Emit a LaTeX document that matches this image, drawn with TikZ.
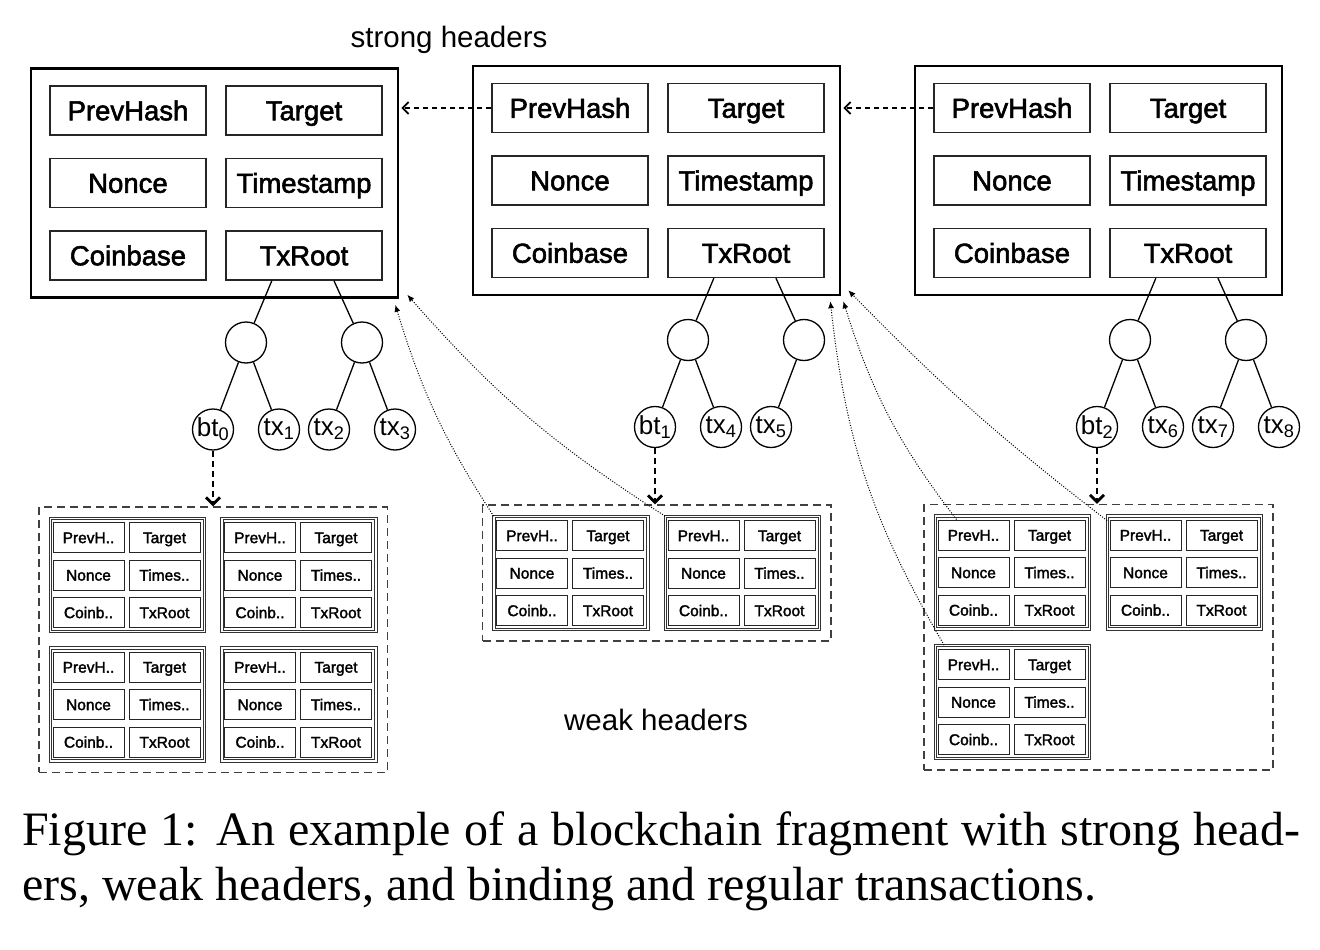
\documentclass[tikz,border=0pt]{standalone}
\usepackage{fontspec}
\setmainfont{Liberation Sans}
\newfontfamily\cellfont{Liberation Sans}[FakeBold=2]
\newfontfamily\capfont{Liberation Serif}
\usetikzlibrary{trees}
\usetikzlibrary{fit}
\usetikzlibrary{arrows.meta}

\begin{document}
\begin{tikzpicture}[x=1pt, y=1pt, level distance=87pt,
  level 1/.style={sibling distance=116pt},
  level 2/.style={sibling distance=66pt,
    edge from parent path={(\tikzparentnode) -- (\tikzchildnode)}},
  edge from parent/.style={draw, line width=1.3pt},
  strongbox/.style={draw, line width=2.6pt, minimum width=367pt, minimum height=229pt},
  cell/.style={draw=black!85, line width=1.2pt, fill=white, minimum width=156pt, minimum height=49pt,
    inner sep=0pt, text height=19.5pt, text depth=0pt, font=\cellfont\fontsize{27.5}{30}\selectfont},
  weakbox/.style={draw=black!80, double, double distance=1.8pt, line width=0.8pt, minimum width=154pt, minimum height=113pt, inner sep=0pt},
  wcell/.style={draw=black!85, line width=1pt, minimum width=71pt, minimum height=30pt,
    inner sep=0pt, text height=11.2pt, text depth=0pt, font=\cellfont\fontsize{15.5}{17}\selectfont},
  wgroup/.style={draw=black!75, line width=1.4pt, dash pattern=on 8pt off 5pt, inner sep=11pt},
  hnode/.style={draw, circle, line width=1.3pt, minimum size=41pt, inner sep=0pt},
  leaf/.style={draw, circle, line width=1.3pt, minimum size=41pt, inner sep=0pt, font=\fontsize{26}{28}\selectfont},
  tag/.style={font=\fontsize{29.5}{32}\selectfont},
  captext/.style={font=\capfont\fontsize{48}{56}\selectfont, inner sep=0pt},
  chainarrow/.style={-{Straight Barb[length=6pt,width=12pt,line width=1.8pt]}, line width=1.5pt, dash pattern=on 5pt off 4pt, shorten >=2pt},
  bindarrow/.style={-{Straight Barb[length=7pt,width=14pt]}, line width=2.8pt, dash pattern=on 6pt off 4pt},
  weakarrow/.style={-{Latex[length=7pt,width=6pt]}, line width=1pt, dash pattern=on 1pt off 1.6pt}
]
\useasboundingbox (0,0) rectangle (1320,-950);

%%% strong headers %%%
\node[tag] (strong) at (449,-40) {strong headers};

\foreach \n/\cx/\cy in {1/216/183, 2/658/180.5, 3/1100/180.5}
{
  \node[strongbox] (s\n) at (\cx-1.5, -\cy) {};
  \node[cell] (s\n-prev) at (\cx-88, -\cy+72.5) {PrevHash};
  \node[cell] (s\n-target) at (\cx+88, -\cy+72.5) {Target};
  \node[cell] (s\n-nonce) at (\cx-88, -\cy) {Nonce};
  \node[cell] (s\n-time) at (\cx+88, -\cy) {Timestamp};
  \node[cell] (s\n-coin) at (\cx-88, -\cy-72.5) {Coinbase};
}

%% merkle trees
\node[cell] (s1-txroot) at (304,-255.5) {TxRoot}
  child[parent anchor=218] {node[hnode] (s1-h1) {}
    child {node[leaf] (bt0) {bt\textsubscript{0}}}
    child {node[leaf] (tx1) {tx\textsubscript{1}}}
  }
  child[parent anchor=-40] {node[hnode] (s1-h2) {}
    child {node[leaf] (tx2) {tx\textsubscript{2}}}
    child {node[leaf] (tx3) {tx\textsubscript{3}}}
  };

\node[cell] (s2-txroot) at (746,-253) {TxRoot}
  child[parent anchor=218] {node[hnode] (s2-h1) {}
    child {node[leaf] (bt1) {bt\textsubscript{1}}}
    child {node[leaf] (tx4) {tx\textsubscript{4}}}
  }
  child[parent anchor=-40] {node[hnode] (s2-h2) {}
    child {node[leaf] (tx5) {tx\textsubscript{5}}}
    child[missing]
  };

\node[cell] (s3-txroot) at (1188,-253) {TxRoot}
  child[parent anchor=218] {node[hnode] (s3-h1) {}
    child {node[leaf] (bt2) {bt\textsubscript{2}}}
    child {node[leaf] (tx6) {tx\textsubscript{6}}}
  }
  child[parent anchor=-40] {node[hnode] (s3-h2) {}
    child {node[leaf] (tx7) {tx\textsubscript{7}}}
    child {node[leaf] (tx8) {tx\textsubscript{8}}}
  };

\draw[chainarrow] (s2-prev.west) -- (s2-prev.west -| s1.east);
\draw[chainarrow] (s3-prev.west) -- (s3-prev.west -| s2.east);

%%% weak headers %%%
\foreach \w/\cx/\cy in {a/127.5/575, b/299/575, c/127.5/704.5, d/299/704.5,
  e/571/573, f/742.5/573, g/1012.5/572.5, h/1184.5/572.5, i/1012.5/702}
{
  \node[weakbox] (w\w) at (\cx, -\cy) {};
  \node[wcell] (w\w-prev) at (\cx-39, -\cy+37.5) {PrevH..};
  \node[wcell] (w\w-target) at (\cx+37, -\cy+37.5) {Target};
  \node[wcell] (w\w-nonce) at (\cx-39, -\cy) {Nonce};
  \node[wcell] (w\w-time) at (\cx+37, -\cy) {Times..};
  \node[wcell] (w\w-coin) at (\cx-39, -\cy-37.5) {Coinb..};
  \node[wcell] (w\w-txroot) at (\cx+37, -\cy-37.5) {TxRoot};
}

\node[wgroup, fit=(wa)(wd)] (g1) {};
\node[wgroup, fit=(we)(wf)] (g2) {};
\node[wgroup, fit=(wg)(wh)(wi)] (g3) {};
\node[tag] (weak) at (656,-720) {weak headers};

\draw[bindarrow] (bt0) -- (bt0 |- g1.north);
\draw[bindarrow] (bt1) -- (bt1 |- g2.north);
\draw[bindarrow] (bt2) -- (bt2 |- g3.north);

\draw[weakarrow] (we.north west) to[bend left=8] ([shift={(-4,-6)}]s1.south east);
\draw[weakarrow] (wf.north west) to[bend left=8] ([shift={(8,4)}]s1.south east);
\draw[weakarrow] ([xshift=9pt]wi.north west) to[bend left=12] ([shift={(-11,-5)}]s2.south east);
\draw[weakarrow] ([xshift=19pt]wg-prev.north west) to[bend left=10] ([shift={(2,-5)}]s2.south east);
\draw[weakarrow] ([yshift=-5pt]wh.north west) to[bend left=4] ([shift={(7,6)}]s2.south east);

%%% caption %%%
\node[captext, anchor=base west] (cap1) at (22,-845)
  {\makebox[1278pt][s]{Figure 1: An example of a blockchain fragment with strong head-}};
\node[captext, anchor=base west] (cap2) at (22,-900)
  {ers, weak headers, and binding and regular transactions.};

\end{tikzpicture}
\end{document}
